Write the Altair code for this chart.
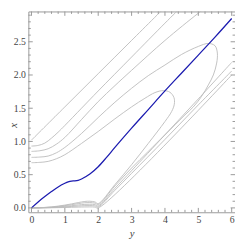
import altair as alt
import pandas as pd

# ---- data (horizontal value = "y", vertical value = "x") ----
blue_h = [0, 0.2, 0.4, 0.6, 0.8, 1.0, 1.1, 1.2, 1.3, 1.4, 1.5, 1.75, 2.0, 2.25, 2.5, 3.0, 3.5, 4.0, 4.5, 5.0, 5.5, 6.0]
blue_v = [0, 0.09, 0.17, 0.245, 0.315, 0.37, 0.392, 0.404, 0.406, 0.415, 0.435, 0.51, 0.62, 0.76, 0.91, 1.2, 1.48, 1.76, 2.03, 2.3, 2.57, 2.85]

c1_h = [0, 1, 2, 3, 4.1]
c1_v = [1.02, 1.52, 2.02, 2.52, 3.07]

c2_h = [0, 0.2, 0.4, 0.6, 0.8, 1.0, 1.5, 2.0, 3.0, 4.0, 4.5]
c2_v = [0.93, 0.94, 0.975, 1.05, 1.14, 1.24, 1.5, 1.76, 2.27, 2.78, 3.03]

c3_h = [0, 0.25, 0.5, 0.75, 1.0, 1.5, 2.0, 2.5, 3.0, 4.0, 5.0, 5.4]
c3_v = [0.85, 0.86, 0.89, 0.96, 1.06, 1.33, 1.6, 1.84, 2.07, 2.52, 2.93, 3.08]

c4_h = [0, 0.25, 0.5, 0.75, 1.0, 1.5, 2.0, 2.5, 3.0, 3.5, 4.0, 4.5, 5.0, 5.3, 5.5, 5.57, 5.55, 5.45, 5.3, 5.1, 4.85, 4.6, 4.3, 4.0, 3.5, 3.0, 2.5, 2.0]
c4_v = [0.76, 0.765, 0.78, 0.83, 0.91, 1.12, 1.36, 1.59, 1.8, 1.99, 2.15, 2.31, 2.43, 2.475, 2.44, 2.33, 2.18, 2.0, 1.85, 1.68, 1.52, 1.4, 1.25, 1.1, 0.85, 0.6, 0.33, 0.05]

c5_h = [0, 0.25, 0.5, 0.75, 1.0, 1.5, 2.0, 2.5, 3.0, 3.4, 3.7, 3.95, 4.15, 4.27, 4.28, 4.2, 4.0, 3.5, 3.0, 2.5, 2.0]
c5_v = [0.68, 0.685, 0.7, 0.74, 0.8, 0.97, 1.15, 1.34, 1.52, 1.65, 1.735, 1.765, 1.74, 1.66, 1.56, 1.45, 1.3, 0.97, 0.65, 0.35, 0.065]

l1_h = [6.0, 2.0]
l1_v = [2.0, 0.0]
l2_h = [6.0, 5.0, 4.0, 3.0, 2.5, 2.0]
l2_v = [2.06, 1.55, 1.03, 0.52, 0.265, 0.015]
l3_h = [6.0, 5.0, 4.0, 3.0, 2.5, 2.0]
l3_v = [2.19, 1.64, 1.1, 0.56, 0.295, 0.03]

bottom_h = [2.0, 1.9, 1.75, 1.6, 1.4, 1.2, 1.0, 0.8, 0.6, 0.4, 0.2, 0.0]
b1_v = [0, 0.012, 0.015, 0.014, 0.012, 0.009, 0.006, 0.004, 0.002, 0.001, 0, 0]
b2_v = [0.015, 0.031, 0.035, 0.034, 0.028, 0.021, 0.015, 0.009, 0.005, 0.002, 0.001, 0]
b3_v = [0.03, 0.05, 0.055, 0.053, 0.044, 0.033, 0.023, 0.015, 0.008, 0.004, 0.001, 0]
b4_v = [0.05, 0.072, 0.08, 0.078, 0.064, 0.048, 0.034, 0.022, 0.012, 0.006, 0.002, 0]
b5_v = [0.065, 0.09, 0.1, 0.097, 0.08, 0.06, 0.042, 0.027, 0.015, 0.007, 0.002, 0]

x_major = [0, 1, 2, 3, 4, 5, 6]
x_minor = [round(0.2 * k, 1) for k in range(1, 30) if k % 5 != 0]
y_major = [0.0, 0.5, 1.0, 1.5, 2.0, 2.5]
y_minor = [round(0.1 * k, 1) for k in range(1, 30) if k % 5 != 0]

# ---- build tables ----
gray_series = {
    "c1": (c1_h, c1_v), "c2": (c2_h, c2_v), "c3": (c3_h, c3_v),
    "c4": (c4_h + bottom_h[1:], c4_v + b4_v[1:]),
    "c5": (c5_h + bottom_h[1:], c5_v + b5_v[1:]),
    "l1": (l1_h + bottom_h[1:], l1_v + b1_v[1:]),
    "l2": (l2_h + bottom_h[1:], l2_v + b2_v[1:]),
    "l3": (l3_h + bottom_h[1:], l3_v + b3_v[1:]),
}
rows = []
for name, (hs, vs) in gray_series.items():
    for i, (h, v) in enumerate(zip(hs, vs)):
        rows.append({"s": name, "i": i, "h": h, "v": v})
gray_df = pd.DataFrame(rows)
blue_df = pd.DataFrame({"h": blue_h, "v": blue_v, "i": list(range(len(blue_h)))})

W, H = 213, 207
xdom = [-0.093, 6.099]
ydom = [-0.066, 2.956]
xs = alt.Scale(domain=xdom, nice=False, zero=False)
ys = alt.Scale(domain=ydom, nice=False, zero=False)

FRAME = "#999999"
serif = "Liberation Serif"

xaxis = alt.Axis(values=x_major, format="d", labelPadding=3, titlePadding=3)
yaxis = alt.Axis(values=y_major, format=".1f", labelPadding=3,
                 titleX=-15, titleY=117, titleAngle=270, titleBaseline="middle", titleAlign="center")

def X(field):
    return alt.X(field, scale=xs, title="y", axis=xaxis)

def Y(field):
    return alt.Y(field, scale=ys, title="x", axis=yaxis)

gray = alt.Chart(gray_df).mark_line(color="#bababa", strokeWidth=0.9, clip=True, interpolate="catmull-rom").encode(
    x=X("h:Q"), y=Y("v:Q"), detail="s:N", order="i:Q",
)
blue = alt.Chart(blue_df).mark_line(color="#1c1cb0", strokeWidth=1.3, clip=True, interpolate="catmull-rom").encode(
    x=X("h:Q"), y=Y("v:Q"), order="i:Q",
)

def xticks(vals, L):
    d = pd.DataFrame({"h": vals})
    b = alt.Chart(d).mark_rule(color=FRAME, strokeWidth=1).encode(
        x=X("h:Q"), y=alt.value(H), y2=alt.value(H - L))
    t = alt.Chart(d).mark_rule(color=FRAME, strokeWidth=1).encode(
        x=X("h:Q"), y=alt.value(0), y2=alt.value(L))
    return [b, t]

def yticks(vals, L):
    d = pd.DataFrame({"v": vals})
    l = alt.Chart(d).mark_rule(color=FRAME, strokeWidth=1).encode(
        y=Y("v:Q"), x=alt.value(0), x2=alt.value(L))
    r = alt.Chart(d).mark_rule(color=FRAME, strokeWidth=1).encode(
        y=Y("v:Q"), x=alt.value(W), x2=alt.value(W - L))
    return [l, r]

layers = [gray, blue] + xticks(x_major, 4.5) + xticks(x_minor, 2.5) + yticks(y_major, 4.5) + yticks(y_minor, 2.5)

chart = alt.layer(*layers).properties(
    width=W, height=H,
    autosize=alt.AutoSizeParams(type="none"),
    padding={"left": 21, "top": 0, "right": 0, "bottom": 25},
).configure_view(
    stroke=FRAME, strokeWidth=1
).configure_axis(
    grid=False, ticks=False, tickSize=0, domain=False,
    labelFont=serif, labelFontSize=10, labelColor="#444444",
    titleFont=serif, titleFontSize=11, titleFontStyle="italic", titleFontWeight="normal", titleColor="#444444",
)

chart.save("out.html", embed_options={"renderer": "svg", "actions": False})
